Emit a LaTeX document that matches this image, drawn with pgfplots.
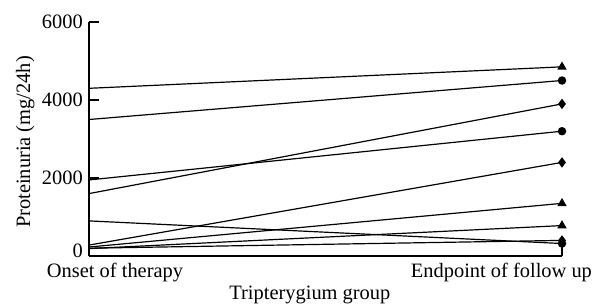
\documentclass[border=0pt]{standalone}
\usepackage{pgfplots}
\pgfplotsset{compat=1.18}
\usepackage{fontspec}
\setmainfont{Liberation Serif}
\newcommand{\chartfont}{\fontsize{20.5}{24}\selectfont}
\begin{document}
\begin{tikzpicture}
\useasboundingbox (-89bp,-49bp) rectangle (505bp,256bp);
\begin{axis}[
  scale only axis,
  width=473bp, height=234bp,
  at={(0,0)}, anchor=south west,
  xmin=0, xmax=1, ymin=0, ymax=6000,
  axis lines=left,
  axis line style={line width=1.2pt,-},
  xtick={1}, xticklabels={},
  ytick={2000,4000,6000},
  extra y ticks={0},
  extra y tick style={yticklabel style={yshift=5bp}},
  tick align=inside,
  major tick length=10bp,
  tick style={line width=1.2pt,black},
  /pgf/number format/assume math mode=true,
  /pgf/number format/set thousands separator={},
  tick label style={font=\chartfont},
  yticklabel style={inner ysep=0pt, inner xsep=6bp},
  ylabel={Proteinuria (mg/24h)},
  every axis y label/.style={at={(axis description cs:-0.135,0.487)},rotate=90,anchor=center,font=\chartfont},
  xlabel={Tripterygium group},
  every axis x label/.style={at={(axis description cs:0.467,-0.188)},anchor=base,font=\chartfont},
  clip=false,
  every axis plot/.append style={black, line width=1.2pt, mark indices={2}, mark size=4.2bp},
]
\addplot[mark=triangle*] coordinates {(0,4300) (1,4850)};
\addplot[mark=*, mark size=3.6bp] coordinates {(0,3500) (1,4500)};
\addplot[mark=diamond*] coordinates {(0,1600) (1,3900)};
\addplot[mark=*, mark size=3.6bp] coordinates {(0,1950) (1,3200)};
\addplot[mark=diamond*] coordinates {(0,280) (1,2400)};
\addplot[mark=triangle*] coordinates {(0,230) (1,1350)};
\addplot[mark=triangle*] coordinates {(0,190) (1,780)};
\addplot[mark=*, mark size=3.6bp] coordinates {(0,900) (1,320)};
\addplot[mark=diamond*] coordinates {(0,200) (1,400)};
\node[anchor=base, inner sep=0pt, font=\chartfont] at (axis description cs:0.055,0) [yshift=-21bp] {Onset of therapy};
\node[anchor=base, inner sep=0pt, font=\chartfont] at (axis description cs:0.872,0) [yshift=-21bp] {Endpoint of follow up};
\end{axis}
\end{tikzpicture}
\end{document}
